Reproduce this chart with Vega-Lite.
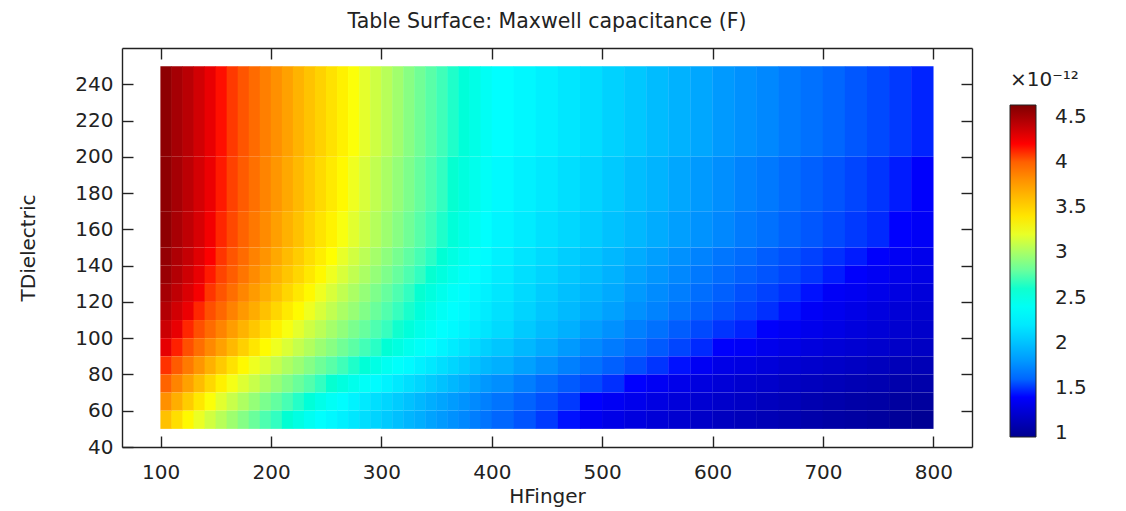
{"$schema":"https://vega.github.io/schema/vega-lite/v6.json","autosize":"none","width":850,"height":399,"padding":{"left":122,"top":48,"right":154,"bottom":64},"background":"white","config":{"font":"DejaVu Sans","view":{"stroke":null}},"title":{"text":"Table Surface: Maxwell capacitance (F)","fontSize":20.5,"fontWeight":"normal","color":"#222","anchor":"middle","offset":15},"data":{"values":[
{"h":105,"a":200,"b":250,"c":4.58},{"h":115,"a":200,"b":250,"c":4.5},{"h":125,"a":200,"b":250,"c":4.43},{"h":135,"a":200,"b":250,"c":4.35},{"h":145,"a":200,"b":250,"c":4.27},{"h":155,"a":200,"b":250,"c":4.19},{"h":165,"a":200,"b":250,"c":4.12},{"h":175,"a":200,"b":250,"c":4.04},{"h":185,"a":200,"b":250,"c":3.96},{"h":195,"a":200,"b":250,"c":3.88},{"h":205,"a":200,"b":250,"c":3.81},{"h":215,"a":200,"b":250,"c":3.73},{"h":225,"a":200,"b":250,"c":3.65},{"h":235,"a":200,"b":250,"c":3.57},{"h":245,"a":200,"b":250,"c":3.5},{"h":255,"a":200,"b":250,"c":3.42},{"h":265,"a":200,"b":250,"c":3.34},{"h":275,"a":200,"b":250,"c":3.26},{"h":285,"a":200,"b":250,"c":3.19},{"h":295,"a":200,"b":250,"c":3.12},{"h":305,"a":200,"b":250,"c":3.05},{"h":315,"a":200,"b":250,"c":2.98},{"h":325,"a":200,"b":250,"c":2.9},{"h":335,"a":200,"b":250,"c":2.83},{"h":345,"a":200,"b":250,"c":2.76},{"h":355,"a":200,"b":250,"c":2.69},{"h":365,"a":200,"b":250,"c":2.62},{"h":375,"a":200,"b":250,"c":2.55},{"h":385,"a":200,"b":250,"c":2.48},{"h":395,"a":200,"b":250,"c":2.4},{"h":410,"a":200,"b":250,"c":2.33},{"h":430,"a":200,"b":250,"c":2.29},{"h":450,"a":200,"b":250,"c":2.24},{"h":470,"a":200,"b":250,"c":2.19},{"h":490,"a":200,"b":250,"c":2.14},{"h":510,"a":200,"b":250,"c":2.08},{"h":530,"a":200,"b":250,"c":2.03},{"h":550,"a":200,"b":250,"c":1.97},{"h":570,"a":200,"b":250,"c":1.92},{"h":590,"a":200,"b":250,"c":1.87},{"h":610,"a":200,"b":250,"c":1.81},{"h":630,"a":200,"b":250,"c":1.77},{"h":650,"a":200,"b":250,"c":1.73},{"h":670,"a":200,"b":250,"c":1.68},{"h":690,"a":200,"b":250,"c":1.64},{"h":710,"a":200,"b":250,"c":1.6},{"h":730,"a":200,"b":250,"c":1.55},{"h":750,"a":200,"b":250,"c":1.51},{"h":770,"a":200,"b":250,"c":1.47},{"h":790,"a":200,"b":250,"c":1.43},
{"h":105,"a":170,"b":200,"c":4.58},{"h":115,"a":170,"b":200,"c":4.5},{"h":125,"a":170,"b":200,"c":4.42},{"h":135,"a":170,"b":200,"c":4.34},{"h":145,"a":170,"b":200,"c":4.26},{"h":155,"a":170,"b":200,"c":4.18},{"h":165,"a":170,"b":200,"c":4.1},{"h":175,"a":170,"b":200,"c":4.02},{"h":185,"a":170,"b":200,"c":3.94},{"h":195,"a":170,"b":200,"c":3.86},{"h":205,"a":170,"b":200,"c":3.78},{"h":215,"a":170,"b":200,"c":3.7},{"h":225,"a":170,"b":200,"c":3.62},{"h":235,"a":170,"b":200,"c":3.54},{"h":245,"a":170,"b":200,"c":3.46},{"h":255,"a":170,"b":200,"c":3.38},{"h":265,"a":170,"b":200,"c":3.3},{"h":275,"a":170,"b":200,"c":3.22},{"h":285,"a":170,"b":200,"c":3.15},{"h":295,"a":170,"b":200,"c":3.08},{"h":305,"a":170,"b":200,"c":3.01},{"h":315,"a":170,"b":200,"c":2.94},{"h":325,"a":170,"b":200,"c":2.87},{"h":335,"a":170,"b":200,"c":2.8},{"h":345,"a":170,"b":200,"c":2.73},{"h":355,"a":170,"b":200,"c":2.66},{"h":365,"a":170,"b":200,"c":2.59},{"h":375,"a":170,"b":200,"c":2.52},{"h":385,"a":170,"b":200,"c":2.45},{"h":395,"a":170,"b":200,"c":2.38},{"h":410,"a":170,"b":200,"c":2.3},{"h":430,"a":170,"b":200,"c":2.25},{"h":450,"a":170,"b":200,"c":2.2},{"h":470,"a":170,"b":200,"c":2.15},{"h":490,"a":170,"b":200,"c":2.1},{"h":510,"a":170,"b":200,"c":2.04},{"h":530,"a":170,"b":200,"c":1.98},{"h":550,"a":170,"b":200,"c":1.93},{"h":570,"a":170,"b":200,"c":1.87},{"h":590,"a":170,"b":200,"c":1.81},{"h":610,"a":170,"b":200,"c":1.76},{"h":630,"a":170,"b":200,"c":1.71},{"h":650,"a":170,"b":200,"c":1.67},{"h":670,"a":170,"b":200,"c":1.62},{"h":690,"a":170,"b":200,"c":1.58},{"h":710,"a":170,"b":200,"c":1.54},{"h":730,"a":170,"b":200,"c":1.5},{"h":750,"a":170,"b":200,"c":1.46},{"h":770,"a":170,"b":200,"c":1.42},{"h":790,"a":170,"b":200,"c":1.39},
{"h":105,"a":150,"b":170,"c":4.58},{"h":115,"a":150,"b":170,"c":4.49},{"h":125,"a":150,"b":170,"c":4.41},{"h":135,"a":150,"b":170,"c":4.33},{"h":145,"a":150,"b":170,"c":4.24},{"h":155,"a":150,"b":170,"c":4.16},{"h":165,"a":150,"b":170,"c":4.08},{"h":175,"a":150,"b":170,"c":3.99},{"h":185,"a":150,"b":170,"c":3.91},{"h":195,"a":150,"b":170,"c":3.83},{"h":205,"a":150,"b":170,"c":3.74},{"h":215,"a":150,"b":170,"c":3.66},{"h":225,"a":150,"b":170,"c":3.58},{"h":235,"a":150,"b":170,"c":3.49},{"h":245,"a":150,"b":170,"c":3.41},{"h":255,"a":150,"b":170,"c":3.33},{"h":265,"a":150,"b":170,"c":3.25},{"h":275,"a":150,"b":170,"c":3.18},{"h":285,"a":150,"b":170,"c":3.11},{"h":295,"a":150,"b":170,"c":3.04},{"h":305,"a":150,"b":170,"c":2.97},{"h":315,"a":150,"b":170,"c":2.9},{"h":325,"a":150,"b":170,"c":2.83},{"h":335,"a":150,"b":170,"c":2.76},{"h":345,"a":150,"b":170,"c":2.69},{"h":355,"a":150,"b":170,"c":2.62},{"h":365,"a":150,"b":170,"c":2.55},{"h":375,"a":150,"b":170,"c":2.48},{"h":385,"a":150,"b":170,"c":2.41},{"h":395,"a":150,"b":170,"c":2.34},{"h":410,"a":150,"b":170,"c":2.27},{"h":430,"a":150,"b":170,"c":2.22},{"h":450,"a":150,"b":170,"c":2.16},{"h":470,"a":150,"b":170,"c":2.11},{"h":490,"a":150,"b":170,"c":2.06},{"h":510,"a":150,"b":170,"c":2.0},{"h":530,"a":150,"b":170,"c":1.95},{"h":550,"a":150,"b":170,"c":1.89},{"h":570,"a":150,"b":170,"c":1.83},{"h":590,"a":150,"b":170,"c":1.78},{"h":610,"a":150,"b":170,"c":1.73},{"h":630,"a":150,"b":170,"c":1.68},{"h":650,"a":150,"b":170,"c":1.64},{"h":670,"a":150,"b":170,"c":1.59},{"h":690,"a":150,"b":170,"c":1.55},{"h":710,"a":150,"b":170,"c":1.51},{"h":730,"a":150,"b":170,"c":1.47},{"h":750,"a":150,"b":170,"c":1.44},{"h":770,"a":150,"b":170,"c":1.4},{"h":790,"a":150,"b":170,"c":1.37},
{"h":105,"a":140,"b":150,"c":4.56},{"h":115,"a":140,"b":150,"c":4.47},{"h":125,"a":140,"b":150,"c":4.39},{"h":135,"a":140,"b":150,"c":4.3},{"h":145,"a":140,"b":150,"c":4.21},{"h":155,"a":140,"b":150,"c":4.13},{"h":165,"a":140,"b":150,"c":4.04},{"h":175,"a":140,"b":150,"c":3.96},{"h":185,"a":140,"b":150,"c":3.87},{"h":195,"a":140,"b":150,"c":3.79},{"h":205,"a":140,"b":150,"c":3.7},{"h":215,"a":140,"b":150,"c":3.61},{"h":225,"a":140,"b":150,"c":3.53},{"h":235,"a":140,"b":150,"c":3.44},{"h":245,"a":140,"b":150,"c":3.36},{"h":255,"a":140,"b":150,"c":3.27},{"h":265,"a":140,"b":150,"c":3.2},{"h":275,"a":140,"b":150,"c":3.13},{"h":285,"a":140,"b":150,"c":3.06},{"h":295,"a":140,"b":150,"c":2.99},{"h":305,"a":140,"b":150,"c":2.92},{"h":315,"a":140,"b":150,"c":2.85},{"h":325,"a":140,"b":150,"c":2.78},{"h":335,"a":140,"b":150,"c":2.71},{"h":345,"a":140,"b":150,"c":2.64},{"h":355,"a":140,"b":150,"c":2.57},{"h":365,"a":140,"b":150,"c":2.5},{"h":375,"a":140,"b":150,"c":2.43},{"h":385,"a":140,"b":150,"c":2.36},{"h":395,"a":140,"b":150,"c":2.31},{"h":410,"a":140,"b":150,"c":2.25},{"h":430,"a":140,"b":150,"c":2.18},{"h":450,"a":140,"b":150,"c":2.12},{"h":470,"a":140,"b":150,"c":2.06},{"h":490,"a":140,"b":150,"c":2.01},{"h":510,"a":140,"b":150,"c":1.95},{"h":530,"a":140,"b":150,"c":1.89},{"h":550,"a":140,"b":150,"c":1.83},{"h":570,"a":140,"b":150,"c":1.77},{"h":590,"a":140,"b":150,"c":1.71},{"h":610,"a":140,"b":150,"c":1.66},{"h":630,"a":140,"b":150,"c":1.62},{"h":650,"a":140,"b":150,"c":1.57},{"h":670,"a":140,"b":150,"c":1.53},{"h":690,"a":140,"b":150,"c":1.49},{"h":710,"a":140,"b":150,"c":1.45},{"h":730,"a":140,"b":150,"c":1.42},{"h":750,"a":140,"b":150,"c":1.39},{"h":770,"a":140,"b":150,"c":1.36},{"h":790,"a":140,"b":150,"c":1.33},
{"h":105,"a":130,"b":140,"c":4.54},{"h":115,"a":130,"b":140,"c":4.45},{"h":125,"a":130,"b":140,"c":4.36},{"h":135,"a":130,"b":140,"c":4.27},{"h":145,"a":130,"b":140,"c":4.18},{"h":155,"a":130,"b":140,"c":4.09},{"h":165,"a":130,"b":140,"c":4.01},{"h":175,"a":130,"b":140,"c":3.92},{"h":185,"a":130,"b":140,"c":3.83},{"h":195,"a":130,"b":140,"c":3.74},{"h":205,"a":130,"b":140,"c":3.65},{"h":215,"a":130,"b":140,"c":3.56},{"h":225,"a":130,"b":140,"c":3.48},{"h":235,"a":130,"b":140,"c":3.39},{"h":245,"a":130,"b":140,"c":3.3},{"h":255,"a":130,"b":140,"c":3.22},{"h":265,"a":130,"b":140,"c":3.15},{"h":275,"a":130,"b":140,"c":3.08},{"h":285,"a":130,"b":140,"c":3.01},{"h":295,"a":130,"b":140,"c":2.94},{"h":305,"a":130,"b":140,"c":2.87},{"h":315,"a":130,"b":140,"c":2.8},{"h":325,"a":130,"b":140,"c":2.73},{"h":335,"a":130,"b":140,"c":2.66},{"h":345,"a":130,"b":140,"c":2.59},{"h":355,"a":130,"b":140,"c":2.52},{"h":365,"a":130,"b":140,"c":2.45},{"h":375,"a":130,"b":140,"c":2.38},{"h":385,"a":130,"b":140,"c":2.32},{"h":395,"a":130,"b":140,"c":2.28},{"h":410,"a":130,"b":140,"c":2.22},{"h":430,"a":130,"b":140,"c":2.15},{"h":450,"a":130,"b":140,"c":2.09},{"h":470,"a":130,"b":140,"c":2.03},{"h":490,"a":130,"b":140,"c":1.98},{"h":510,"a":130,"b":140,"c":1.92},{"h":530,"a":130,"b":140,"c":1.85},{"h":550,"a":130,"b":140,"c":1.79},{"h":570,"a":130,"b":140,"c":1.73},{"h":590,"a":130,"b":140,"c":1.67},{"h":610,"a":130,"b":140,"c":1.62},{"h":630,"a":130,"b":140,"c":1.58},{"h":650,"a":130,"b":140,"c":1.54},{"h":670,"a":130,"b":140,"c":1.5},{"h":690,"a":130,"b":140,"c":1.46},{"h":710,"a":130,"b":140,"c":1.42},{"h":730,"a":130,"b":140,"c":1.39},{"h":750,"a":130,"b":140,"c":1.36},{"h":770,"a":130,"b":140,"c":1.33},{"h":790,"a":130,"b":140,"c":1.3},
{"h":105,"a":120,"b":130,"c":4.5},{"h":115,"a":120,"b":130,"c":4.41},{"h":125,"a":120,"b":130,"c":4.32},{"h":135,"a":120,"b":130,"c":4.23},{"h":145,"a":120,"b":130,"c":4.13},{"h":155,"a":120,"b":130,"c":4.04},{"h":165,"a":120,"b":130,"c":3.95},{"h":175,"a":120,"b":130,"c":3.85},{"h":185,"a":120,"b":130,"c":3.76},{"h":195,"a":120,"b":130,"c":3.67},{"h":205,"a":120,"b":130,"c":3.58},{"h":215,"a":120,"b":130,"c":3.48},{"h":225,"a":120,"b":130,"c":3.39},{"h":235,"a":120,"b":130,"c":3.3},{"h":245,"a":120,"b":130,"c":3.22},{"h":255,"a":120,"b":130,"c":3.15},{"h":265,"a":120,"b":130,"c":3.08},{"h":275,"a":120,"b":130,"c":3.01},{"h":285,"a":120,"b":130,"c":2.94},{"h":295,"a":120,"b":130,"c":2.87},{"h":305,"a":120,"b":130,"c":2.8},{"h":315,"a":120,"b":130,"c":2.73},{"h":325,"a":120,"b":130,"c":2.66},{"h":335,"a":120,"b":130,"c":2.59},{"h":345,"a":120,"b":130,"c":2.52},{"h":355,"a":120,"b":130,"c":2.45},{"h":365,"a":120,"b":130,"c":2.38},{"h":375,"a":120,"b":130,"c":2.32},{"h":385,"a":120,"b":130,"c":2.28},{"h":395,"a":120,"b":130,"c":2.25},{"h":410,"a":120,"b":130,"c":2.19},{"h":430,"a":120,"b":130,"c":2.12},{"h":450,"a":120,"b":130,"c":2.05},{"h":470,"a":120,"b":130,"c":1.99},{"h":490,"a":120,"b":130,"c":1.94},{"h":510,"a":120,"b":130,"c":1.88},{"h":530,"a":120,"b":130,"c":1.81},{"h":550,"a":120,"b":130,"c":1.75},{"h":570,"a":120,"b":130,"c":1.69},{"h":590,"a":120,"b":130,"c":1.63},{"h":610,"a":120,"b":130,"c":1.58},{"h":630,"a":120,"b":130,"c":1.53},{"h":650,"a":120,"b":130,"c":1.49},{"h":670,"a":120,"b":130,"c":1.45},{"h":690,"a":120,"b":130,"c":1.41},{"h":710,"a":120,"b":130,"c":1.37},{"h":730,"a":120,"b":130,"c":1.35},{"h":750,"a":120,"b":130,"c":1.32},{"h":770,"a":120,"b":130,"c":1.29},{"h":790,"a":120,"b":130,"c":1.26},
{"h":105,"a":110,"b":120,"c":4.45},{"h":115,"a":110,"b":120,"c":4.35},{"h":125,"a":110,"b":120,"c":4.26},{"h":135,"a":110,"b":120,"c":4.16},{"h":145,"a":110,"b":120,"c":4.06},{"h":155,"a":110,"b":120,"c":3.97},{"h":165,"a":110,"b":120,"c":3.87},{"h":175,"a":110,"b":120,"c":3.77},{"h":185,"a":110,"b":120,"c":3.68},{"h":195,"a":110,"b":120,"c":3.58},{"h":205,"a":110,"b":120,"c":3.48},{"h":215,"a":110,"b":120,"c":3.38},{"h":225,"a":110,"b":120,"c":3.29},{"h":235,"a":110,"b":120,"c":3.22},{"h":245,"a":110,"b":120,"c":3.15},{"h":255,"a":110,"b":120,"c":3.08},{"h":265,"a":110,"b":120,"c":3.01},{"h":275,"a":110,"b":120,"c":2.95},{"h":285,"a":110,"b":120,"c":2.88},{"h":295,"a":110,"b":120,"c":2.81},{"h":305,"a":110,"b":120,"c":2.74},{"h":315,"a":110,"b":120,"c":2.67},{"h":325,"a":110,"b":120,"c":2.61},{"h":335,"a":110,"b":120,"c":2.54},{"h":345,"a":110,"b":120,"c":2.47},{"h":355,"a":110,"b":120,"c":2.4},{"h":365,"a":110,"b":120,"c":2.34},{"h":375,"a":110,"b":120,"c":2.3},{"h":385,"a":110,"b":120,"c":2.26},{"h":395,"a":110,"b":120,"c":2.22},{"h":410,"a":110,"b":120,"c":2.16},{"h":430,"a":110,"b":120,"c":2.09},{"h":450,"a":110,"b":120,"c":2.02},{"h":470,"a":110,"b":120,"c":1.96},{"h":490,"a":110,"b":120,"c":1.9},{"h":510,"a":110,"b":120,"c":1.84},{"h":530,"a":110,"b":120,"c":1.77},{"h":550,"a":110,"b":120,"c":1.71},{"h":570,"a":110,"b":120,"c":1.64},{"h":590,"a":110,"b":120,"c":1.58},{"h":610,"a":110,"b":120,"c":1.53},{"h":630,"a":110,"b":120,"c":1.49},{"h":650,"a":110,"b":120,"c":1.45},{"h":670,"a":110,"b":120,"c":1.41},{"h":690,"a":110,"b":120,"c":1.37},{"h":710,"a":110,"b":120,"c":1.34},{"h":730,"a":110,"b":120,"c":1.31},{"h":750,"a":110,"b":120,"c":1.28},{"h":770,"a":110,"b":120,"c":1.25},{"h":790,"a":110,"b":120,"c":1.23},
{"h":105,"a":100,"b":110,"c":4.37},{"h":115,"a":100,"b":110,"c":4.27},{"h":125,"a":100,"b":110,"c":4.16},{"h":135,"a":100,"b":110,"c":4.06},{"h":145,"a":100,"b":110,"c":3.96},{"h":155,"a":100,"b":110,"c":3.86},{"h":165,"a":100,"b":110,"c":3.75},{"h":175,"a":100,"b":110,"c":3.65},{"h":185,"a":100,"b":110,"c":3.55},{"h":195,"a":100,"b":110,"c":3.45},{"h":205,"a":100,"b":110,"c":3.34},{"h":215,"a":100,"b":110,"c":3.25},{"h":225,"a":100,"b":110,"c":3.19},{"h":235,"a":100,"b":110,"c":3.12},{"h":245,"a":100,"b":110,"c":3.06},{"h":255,"a":100,"b":110,"c":2.99},{"h":265,"a":100,"b":110,"c":2.93},{"h":275,"a":100,"b":110,"c":2.86},{"h":285,"a":100,"b":110,"c":2.8},{"h":295,"a":100,"b":110,"c":2.73},{"h":305,"a":100,"b":110,"c":2.67},{"h":315,"a":100,"b":110,"c":2.6},{"h":325,"a":100,"b":110,"c":2.54},{"h":335,"a":100,"b":110,"c":2.47},{"h":345,"a":100,"b":110,"c":2.41},{"h":355,"a":100,"b":110,"c":2.34},{"h":365,"a":100,"b":110,"c":2.3},{"h":375,"a":100,"b":110,"c":2.26},{"h":385,"a":100,"b":110,"c":2.22},{"h":395,"a":100,"b":110,"c":2.18},{"h":410,"a":100,"b":110,"c":2.12},{"h":430,"a":100,"b":110,"c":2.04},{"h":450,"a":100,"b":110,"c":1.97},{"h":470,"a":100,"b":110,"c":1.91},{"h":490,"a":100,"b":110,"c":1.83},{"h":510,"a":100,"b":110,"c":1.77},{"h":530,"a":100,"b":110,"c":1.7},{"h":550,"a":100,"b":110,"c":1.64},{"h":570,"a":100,"b":110,"c":1.57},{"h":590,"a":100,"b":110,"c":1.51},{"h":610,"a":100,"b":110,"c":1.46},{"h":630,"a":100,"b":110,"c":1.43},{"h":650,"a":100,"b":110,"c":1.39},{"h":670,"a":100,"b":110,"c":1.36},{"h":690,"a":100,"b":110,"c":1.33},{"h":710,"a":100,"b":110,"c":1.3},{"h":730,"a":100,"b":110,"c":1.27},{"h":750,"a":100,"b":110,"c":1.25},{"h":770,"a":100,"b":110,"c":1.22},{"h":790,"a":100,"b":110,"c":1.2},
{"h":105,"a":90,"b":100,"c":4.28},{"h":115,"a":90,"b":100,"c":4.17},{"h":125,"a":90,"b":100,"c":4.06},{"h":135,"a":90,"b":100,"c":3.95},{"h":145,"a":90,"b":100,"c":3.84},{"h":155,"a":90,"b":100,"c":3.73},{"h":165,"a":90,"b":100,"c":3.62},{"h":175,"a":90,"b":100,"c":3.51},{"h":185,"a":90,"b":100,"c":3.4},{"h":195,"a":90,"b":100,"c":3.29},{"h":205,"a":90,"b":100,"c":3.22},{"h":215,"a":90,"b":100,"c":3.16},{"h":225,"a":90,"b":100,"c":3.09},{"h":235,"a":90,"b":100,"c":3.03},{"h":245,"a":90,"b":100,"c":2.96},{"h":255,"a":90,"b":100,"c":2.9},{"h":265,"a":90,"b":100,"c":2.83},{"h":275,"a":90,"b":100,"c":2.77},{"h":285,"a":90,"b":100,"c":2.7},{"h":295,"a":90,"b":100,"c":2.64},{"h":305,"a":90,"b":100,"c":2.57},{"h":315,"a":90,"b":100,"c":2.51},{"h":325,"a":90,"b":100,"c":2.44},{"h":335,"a":90,"b":100,"c":2.38},{"h":345,"a":90,"b":100,"c":2.32},{"h":355,"a":90,"b":100,"c":2.27},{"h":365,"a":90,"b":100,"c":2.22},{"h":375,"a":90,"b":100,"c":2.17},{"h":385,"a":90,"b":100,"c":2.12},{"h":395,"a":90,"b":100,"c":2.07},{"h":410,"a":90,"b":100,"c":2.02},{"h":430,"a":90,"b":100,"c":1.95},{"h":450,"a":90,"b":100,"c":1.88},{"h":470,"a":90,"b":100,"c":1.81},{"h":490,"a":90,"b":100,"c":1.74},{"h":510,"a":90,"b":100,"c":1.68},{"h":530,"a":90,"b":100,"c":1.62},{"h":550,"a":90,"b":100,"c":1.56},{"h":570,"a":90,"b":100,"c":1.5},{"h":590,"a":90,"b":100,"c":1.44},{"h":610,"a":90,"b":100,"c":1.39},{"h":630,"a":90,"b":100,"c":1.37},{"h":650,"a":90,"b":100,"c":1.33},{"h":670,"a":90,"b":100,"c":1.3},{"h":690,"a":90,"b":100,"c":1.27},{"h":710,"a":90,"b":100,"c":1.25},{"h":730,"a":90,"b":100,"c":1.23},{"h":750,"a":90,"b":100,"c":1.21},{"h":770,"a":90,"b":100,"c":1.19},{"h":790,"a":90,"b":100,"c":1.17},
{"h":105,"a":80,"b":90,"c":4.14},{"h":115,"a":80,"b":90,"c":4.02},{"h":125,"a":80,"b":90,"c":3.9},{"h":135,"a":80,"b":90,"c":3.78},{"h":145,"a":80,"b":90,"c":3.66},{"h":155,"a":80,"b":90,"c":3.54},{"h":165,"a":80,"b":90,"c":3.42},{"h":175,"a":80,"b":90,"c":3.3},{"h":185,"a":80,"b":90,"c":3.22},{"h":195,"a":80,"b":90,"c":3.16},{"h":205,"a":80,"b":90,"c":3.09},{"h":215,"a":80,"b":90,"c":3.02},{"h":225,"a":80,"b":90,"c":2.96},{"h":235,"a":80,"b":90,"c":2.89},{"h":245,"a":80,"b":90,"c":2.82},{"h":255,"a":80,"b":90,"c":2.76},{"h":265,"a":80,"b":90,"c":2.69},{"h":275,"a":80,"b":90,"c":2.62},{"h":285,"a":80,"b":90,"c":2.56},{"h":295,"a":80,"b":90,"c":2.49},{"h":305,"a":80,"b":90,"c":2.42},{"h":315,"a":80,"b":90,"c":2.36},{"h":325,"a":80,"b":90,"c":2.3},{"h":335,"a":80,"b":90,"c":2.25},{"h":345,"a":80,"b":90,"c":2.2},{"h":355,"a":80,"b":90,"c":2.15},{"h":365,"a":80,"b":90,"c":2.1},{"h":375,"a":80,"b":90,"c":2.05},{"h":385,"a":80,"b":90,"c":2.0},{"h":395,"a":80,"b":90,"c":1.95},{"h":410,"a":80,"b":90,"c":1.91},{"h":430,"a":80,"b":90,"c":1.84},{"h":450,"a":80,"b":90,"c":1.77},{"h":470,"a":80,"b":90,"c":1.7},{"h":490,"a":80,"b":90,"c":1.64},{"h":510,"a":80,"b":90,"c":1.58},{"h":530,"a":80,"b":90,"c":1.52},{"h":550,"a":80,"b":90,"c":1.46},{"h":570,"a":80,"b":90,"c":1.41},{"h":590,"a":80,"b":90,"c":1.36},{"h":610,"a":80,"b":90,"c":1.31},{"h":630,"a":80,"b":90,"c":1.29},{"h":650,"a":80,"b":90,"c":1.26},{"h":670,"a":80,"b":90,"c":1.23},{"h":690,"a":80,"b":90,"c":1.21},{"h":710,"a":80,"b":90,"c":1.19},{"h":730,"a":80,"b":90,"c":1.17},{"h":750,"a":80,"b":90,"c":1.15},{"h":770,"a":80,"b":90,"c":1.13},{"h":790,"a":80,"b":90,"c":1.12},
{"h":105,"a":70,"b":80,"c":3.99},{"h":115,"a":70,"b":80,"c":3.86},{"h":125,"a":70,"b":80,"c":3.73},{"h":135,"a":70,"b":80,"c":3.6},{"h":145,"a":70,"b":80,"c":3.47},{"h":155,"a":70,"b":80,"c":3.34},{"h":165,"a":70,"b":80,"c":3.24},{"h":175,"a":70,"b":80,"c":3.17},{"h":185,"a":70,"b":80,"c":3.1},{"h":195,"a":70,"b":80,"c":3.02},{"h":205,"a":70,"b":80,"c":2.95},{"h":215,"a":70,"b":80,"c":2.88},{"h":225,"a":70,"b":80,"c":2.81},{"h":235,"a":70,"b":80,"c":2.74},{"h":245,"a":70,"b":80,"c":2.66},{"h":255,"a":70,"b":80,"c":2.59},{"h":265,"a":70,"b":80,"c":2.52},{"h":275,"a":70,"b":80,"c":2.45},{"h":285,"a":70,"b":80,"c":2.38},{"h":295,"a":70,"b":80,"c":2.31},{"h":305,"a":70,"b":80,"c":2.26},{"h":315,"a":70,"b":80,"c":2.2},{"h":325,"a":70,"b":80,"c":2.15},{"h":335,"a":70,"b":80,"c":2.1},{"h":345,"a":70,"b":80,"c":2.05},{"h":355,"a":70,"b":80,"c":2.0},{"h":365,"a":70,"b":80,"c":1.95},{"h":375,"a":70,"b":80,"c":1.9},{"h":385,"a":70,"b":80,"c":1.85},{"h":395,"a":70,"b":80,"c":1.8},{"h":410,"a":70,"b":80,"c":1.76},{"h":430,"a":70,"b":80,"c":1.69},{"h":450,"a":70,"b":80,"c":1.62},{"h":470,"a":70,"b":80,"c":1.56},{"h":490,"a":70,"b":80,"c":1.51},{"h":510,"a":70,"b":80,"c":1.45},{"h":530,"a":70,"b":80,"c":1.4},{"h":550,"a":70,"b":80,"c":1.36},{"h":570,"a":70,"b":80,"c":1.32},{"h":590,"a":70,"b":80,"c":1.28},{"h":610,"a":70,"b":80,"c":1.25},{"h":630,"a":70,"b":80,"c":1.22},{"h":650,"a":70,"b":80,"c":1.2},{"h":670,"a":70,"b":80,"c":1.17},{"h":690,"a":70,"b":80,"c":1.15},{"h":710,"a":70,"b":80,"c":1.13},{"h":730,"a":70,"b":80,"c":1.11},{"h":750,"a":70,"b":80,"c":1.1},{"h":770,"a":70,"b":80,"c":1.08},{"h":790,"a":70,"b":80,"c":1.07},
{"h":105,"a":60,"b":70,"c":3.81},{"h":115,"a":60,"b":70,"c":3.67},{"h":125,"a":60,"b":70,"c":3.53},{"h":135,"a":60,"b":70,"c":3.39},{"h":145,"a":60,"b":70,"c":3.26},{"h":155,"a":60,"b":70,"c":3.18},{"h":165,"a":60,"b":70,"c":3.1},{"h":175,"a":60,"b":70,"c":3.02},{"h":185,"a":60,"b":70,"c":2.94},{"h":195,"a":60,"b":70,"c":2.86},{"h":205,"a":60,"b":70,"c":2.79},{"h":215,"a":60,"b":70,"c":2.71},{"h":225,"a":60,"b":70,"c":2.63},{"h":235,"a":60,"b":70,"c":2.55},{"h":245,"a":60,"b":70,"c":2.47},{"h":255,"a":60,"b":70,"c":2.39},{"h":265,"a":60,"b":70,"c":2.32},{"h":275,"a":60,"b":70,"c":2.26},{"h":285,"a":60,"b":70,"c":2.21},{"h":295,"a":60,"b":70,"c":2.15},{"h":305,"a":60,"b":70,"c":2.1},{"h":315,"a":60,"b":70,"c":2.05},{"h":325,"a":60,"b":70,"c":2.0},{"h":335,"a":60,"b":70,"c":1.95},{"h":345,"a":60,"b":70,"c":1.9},{"h":355,"a":60,"b":70,"c":1.86},{"h":365,"a":60,"b":70,"c":1.82},{"h":375,"a":60,"b":70,"c":1.78},{"h":385,"a":60,"b":70,"c":1.74},{"h":395,"a":60,"b":70,"c":1.7},{"h":410,"a":60,"b":70,"c":1.65},{"h":430,"a":60,"b":70,"c":1.59},{"h":450,"a":60,"b":70,"c":1.53},{"h":470,"a":60,"b":70,"c":1.47},{"h":490,"a":60,"b":70,"c":1.4},{"h":510,"a":60,"b":70,"c":1.36},{"h":530,"a":60,"b":70,"c":1.33},{"h":550,"a":60,"b":70,"c":1.29},{"h":570,"a":60,"b":70,"c":1.26},{"h":590,"a":60,"b":70,"c":1.23},{"h":610,"a":60,"b":70,"c":1.2},{"h":630,"a":60,"b":70,"c":1.18},{"h":650,"a":60,"b":70,"c":1.15},{"h":670,"a":60,"b":70,"c":1.13},{"h":690,"a":60,"b":70,"c":1.1},{"h":710,"a":60,"b":70,"c":1.08},{"h":730,"a":60,"b":70,"c":1.06},{"h":750,"a":60,"b":70,"c":1.05},{"h":770,"a":60,"b":70,"c":1.03},{"h":790,"a":60,"b":70,"c":1.02},
{"h":105,"a":50,"b":60,"c":3.58},{"h":115,"a":50,"b":60,"c":3.44},{"h":125,"a":50,"b":60,"c":3.3},{"h":135,"a":50,"b":60,"c":3.21},{"h":145,"a":50,"b":60,"c":3.13},{"h":155,"a":50,"b":60,"c":3.05},{"h":165,"a":50,"b":60,"c":2.97},{"h":175,"a":50,"b":60,"c":2.89},{"h":185,"a":50,"b":60,"c":2.81},{"h":195,"a":50,"b":60,"c":2.73},{"h":205,"a":50,"b":60,"c":2.66},{"h":215,"a":50,"b":60,"c":2.58},{"h":225,"a":50,"b":60,"c":2.5},{"h":235,"a":50,"b":60,"c":2.42},{"h":245,"a":50,"b":60,"c":2.34},{"h":255,"a":50,"b":60,"c":2.29},{"h":265,"a":50,"b":60,"c":2.24},{"h":275,"a":50,"b":60,"c":2.19},{"h":285,"a":50,"b":60,"c":2.14},{"h":295,"a":50,"b":60,"c":2.09},{"h":305,"a":50,"b":60,"c":2.04},{"h":315,"a":50,"b":60,"c":1.99},{"h":325,"a":50,"b":60,"c":1.94},{"h":335,"a":50,"b":60,"c":1.9},{"h":345,"a":50,"b":60,"c":1.85},{"h":355,"a":50,"b":60,"c":1.81},{"h":365,"a":50,"b":60,"c":1.77},{"h":375,"a":50,"b":60,"c":1.73},{"h":385,"a":50,"b":60,"c":1.69},{"h":395,"a":50,"b":60,"c":1.65},{"h":410,"a":50,"b":60,"c":1.6},{"h":430,"a":50,"b":60,"c":1.54},{"h":450,"a":50,"b":60,"c":1.47},{"h":470,"a":50,"b":60,"c":1.41},{"h":490,"a":50,"b":60,"c":1.35},{"h":510,"a":50,"b":60,"c":1.31},{"h":530,"a":50,"b":60,"c":1.28},{"h":550,"a":50,"b":60,"c":1.25},{"h":570,"a":50,"b":60,"c":1.22},{"h":590,"a":50,"b":60,"c":1.19},{"h":610,"a":50,"b":60,"c":1.16},{"h":630,"a":50,"b":60,"c":1.14},{"h":650,"a":50,"b":60,"c":1.12},{"h":670,"a":50,"b":60,"c":1.1},{"h":690,"a":50,"b":60,"c":1.07},{"h":710,"a":50,"b":60,"c":1.05},{"h":730,"a":50,"b":60,"c":1.04},{"h":750,"a":50,"b":60,"c":1.02},{"h":770,"a":50,"b":60,"c":1.0},{"h":790,"a":50,"b":60,"c":0.98}
]},
"layer":[
{"transform":[{"filter":"datum.h < 400"}],"mark":{"type":"rect","width":11.5,"stroke":null},"encoding":{
"x":{"field":"h","type":"quantitative","scale":{"domain":[65,835],"nice":false,"zero":false},"axis":{"title":"HFinger","values":[100,200,300,400,500,600,700,800],"grid":false,"tickSize":-11,"tickColor":"#222","tickWidth":1.4,"domainColor":"#222","domainWidth":1.4,"labelFontSize":20,"labelColor":"#222","labelPadding":26,"titleFontSize":20,"titleFontWeight":"normal","titleColor":"#222","titlePadding":4}},
"y":{"field":"a","type":"quantitative","scale":{"domain":[40,260],"nice":false,"zero":false},"axis":{"title":"TDielectric","values":[40,60,80,100,120,140,160,180,200,220,240],"grid":false,"tickSize":-11,"tickColor":"#222","tickWidth":1.4,"domainColor":"#222","domainWidth":1.4,"labelFontSize":20,"labelColor":"#222","labelPadding":20,"titleFontSize":20,"titleFontWeight":"normal","titleColor":"#222","titlePadding":36}},
"y2":{"field":"b"},
"color":{"field":"c","type":"quantitative","scale":{"domain":[0.96,1.4,2.33,3.27,4.2,4.63],"range":["#00008f","#0000ff","#00ffff","#ffff00","#ff0000","#800000"]},"legend":{"orient":"none","legendX":888,"legendY":22,"title":"    ×10⁻¹²","titleFontSize":20,"titleFontWeight":"normal","titleColor":"#222","titlePadding":15,"titleAnchor":"start","gradientLength":332,"gradientThickness":26,"gradientStrokeColor":"#222","gradientStrokeWidth":1,"values":[1,1.5,2,2.5,3,3.5,4,4.5],"labelFontSize":20,"labelColor":"#222","labelOffset":19,"format":"~g"}}}},
{"transform":[{"filter":"datum.h > 400"}],"mark":{"type":"rect","width":22.4,"stroke":null},"encoding":{
"x":{"field":"h","type":"quantitative","axis":null},
"y":{"field":"a","type":"quantitative","axis":null},
"y2":{"field":"b"},
"color":{"field":"c","type":"quantitative"}}},
{"mark":{"type":"point","opacity":0},"encoding":{
"x":{"field":"h","type":"quantitative","axis":{"orient":"top","title":null,"labels":false,"values":[100,200,300,400,500,600,700,800],"grid":false,"tickSize":-11,"tickColor":"#222","tickWidth":1.4,"domainColor":"#222","domainWidth":1.4}},
"y":{"field":"a","type":"quantitative","axis":{"orient":"right","title":null,"labels":false,"values":[60,80,100,120,140,160,180,200,220,240],"grid":false,"tickSize":-11,"tickColor":"#222","tickWidth":1.4,"domainColor":"#222","domainWidth":1.4}}}}
],
"resolve":{"axis":{"x":"independent","y":"independent"}}}
